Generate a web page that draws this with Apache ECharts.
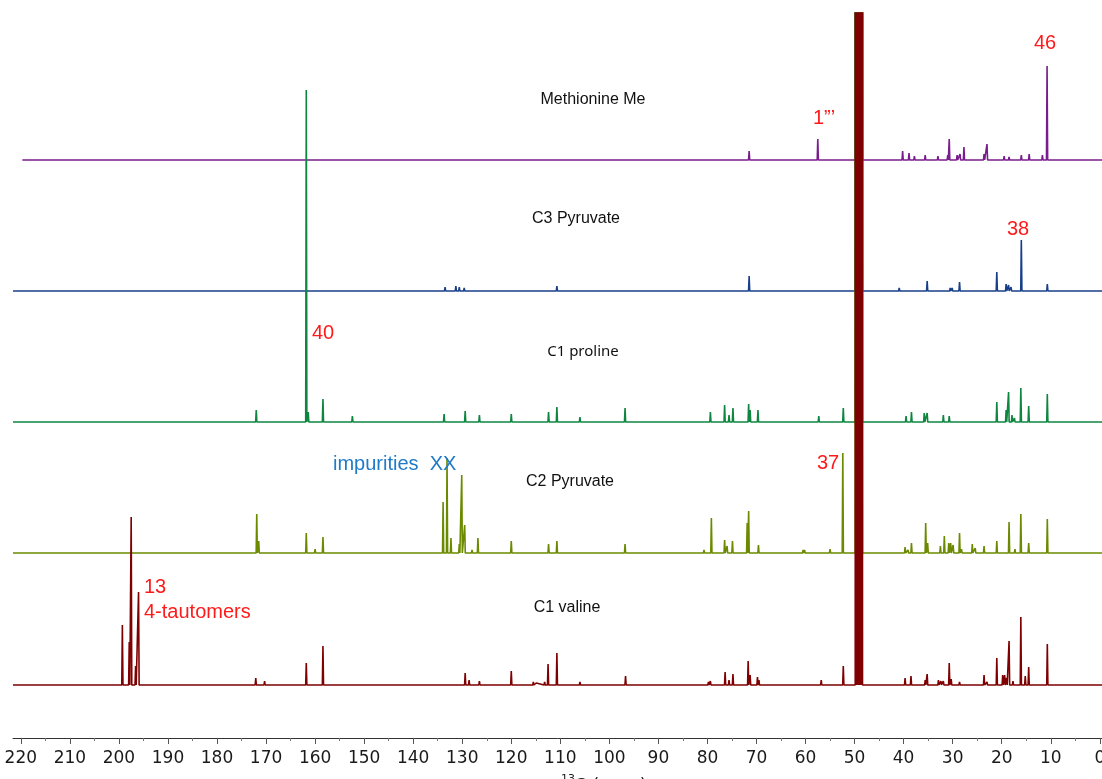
<!DOCTYPE html>
<html>
<head>
<meta charset="utf-8">
<script src="https://cdn.jsdelivr.net/npm/echarts@6/dist/echarts.min.js"></script>
<style>
html,body{margin:0;padding:0;background:#fff;overflow:hidden;}
#chart{width:1102px;height:779px;}
</style>
</head>
<body>
<div id="chart"></div>
<script>
// ---- data: peak lists [ppm, intensity] per spectrum ----
const traceNames = ['Methionine Me', 'C3 Pyruvate', 'C1 proline', 'C2 Pyruvate', 'C1 valine'];
const tickValues = [0,10,20,30,40,50,60,70,80,90,100,110,120,130,140,150,160,170,180,190,200,210,220];
const minorTickValues = [5,15,25,35,45,55,65,75,85,95,105,115,125,135,145,155,165,175,185,195,205,215];
const solventPpm = [49.75, 49.5, 49.25, 49.0, 48.75, 48.5];
const solventHeight = 3000;

const methioninePeaks = [
  [183.0,2],[110.6,2],[76.2,2],[71.5,9],[57.5,21],[52.3,1],[40.2,9],[38.9,7],[37.8,4],[35.6,5],
  [33.0,4],[31.0,5],[30.7,21],[29.1,5],[28.5,6],[27.7,13],[23.6,6],[23.0,16],[20.9,2],[19.5,4],
  [18.5,3],[16.0,5],[14.4,6],[11.7,5],[10.75,94]
];
const c3PyruvatePeaks = [
  [133.5,4],[131.3,5],[130.6,4],[129.6,3],[120.1,2],[112.4,2],[110.7,5],[76.2,2],[71.5,15],
  [40.9,3],[35.2,10],[33.0,2],[30.5,3],[30.1,3],[28.6,9],[22.4,2],[21.0,19],[19.1,7],[18.6,6],
  [18.1,4],[16.0,51],[14.4,2],[10.7,7]
];
const c1ProlinePeaks = [
  [172.0,12],[170.3,2],[161.8,332],[161.4,10],[158.4,23],[152.4,6],[133.7,8],[129.4,11],[126.5,7],
  [120.0,8],[112.4,10],[110.7,15],[106.0,5],[96.8,14],[79.4,10],[76.5,17],[75.6,7],[74.8,14],
  [71.6,18],[71.3,12],[69.7,12],[57.3,6],[52.3,14],[39.5,6],[38.4,10],[35.8,9],[35.2,9],[31.9,7],
  [30.7,6],[29.2,2],[23.6,2],[21.0,20],[19.1,12],[18.6,30],[17.9,7],[17.4,4],[16.1,34],[14.5,16],[10.7,28]
];
const c2PyruvatePeaks = [
  [177.8,2],[171.9,39],[171.5,12],[161.8,20],[160.0,4],[158.4,16],[157.3,2],[152.2,2],[138.2,2],
  [133.9,51],[133.1,95],[132.3,15],[130.6,9],[130.1,78],[129.5,28],[128.0,3],[126.8,15],[120.0,12],
  [112.4,9],[110.7,12],[106.0,2],[96.8,9],[82.9,2],[80.7,3],[79.2,35],[76.5,13],[76.0,7],[74.9,12],
  [74.0,2],[71.9,30],[71.6,42],[69.6,8],[60.5,3],[60.2,3],[57.3,2],[55.0,4],[52.4,100],[39.7,6],
  [39.1,3],[38.4,10],[35.5,30],[35.1,10],[32.5,7],[31.7,17],[30.8,10],[30.4,10],[29.9,8],[28.6,20],
  [28.2,4],[26.0,9],[25.4,5],[23.6,7],[21.0,12],[19.5,2],[18.5,31],[17.3,4],[16.1,39],[14.5,10],[10.7,34]
];
const c1ValinePeaks = [
  [199.3,60],[197.9,43],[197.5,168],[196.6,19],[196.0,93],[177.3,2],[172.1,7],[170.3,4],[161.8,22],
  [158.4,39],[152.3,2],[151.1,2],[133.8,2],[129.4,12],[128.6,5],[126.5,4],[122.4,1],[120.0,14],
  [115.5,3],[114.9,2],[113.2,3],[112.5,21],[110.7,32],[106.0,3],[96.7,9],[79.8,3],[79.4,4],[76.4,13],
  [75.6,5],[74.8,11],[71.7,24],[71.3,10],[69.8,8],[69.5,5],[57.4,2],[56.8,5],[52.3,19],[39.7,7],
  [38.5,9],[35.6,5],[35.2,11],[32.9,5],[32.4,4],[31.9,4],[30.7,22],[30.3,6],[28.6,3],[27.1,2],
  [23.6,10],[23.0,3],[21.0,27],[19.8,10],[19.4,10],[19.0,7],[18.5,44],[17.7,4],[16.1,68],[15.2,9],
  [14.5,18],[10.7,41]
];

// ---- layout / style ----
const traces = [
  {peaks: methioninePeaks, base: 578, start: 219.7, color: '#7a1d8c'},
  {peaks: c3PyruvatePeaks, base: 447, start: 221.6, color: '#183f8a'},
  {peaks: c1ProlinePeaks,  base: 316, start: 221.6, color: '#0f8640'},
  {peaks: c2PyruvatePeaks, base: 185, start: 221.6, color: '#6b8a00'},
  {peaks: c1ValinePeaks,   base: 53,  start: 221.6, color: '#7f0000'}
];
const W = 0.12;

function build(peaks, start, end, base) {
  const all = peaks.concat(solventPpm.map(p => [p, solventHeight]));
  all.sort((a, b) => b[0] - a[0]);
  const pts = [[start, base]];
  all.forEach(([p, h]) => {
    pts.push([p + W, base]);
    pts.push([p, base + h]);
    pts.push([p - W, base]);
  });
  pts.push([end, base]);
  return pts;
}

const series = traces.map((t, i) => ({
  name: traceNames[i],
  type: 'line',
  xAxisIndex: 0,
  yAxisIndex: 0,
  data: build(t.peaks, t.start, -0.45, t.base),
  showSymbol: false,
  symbol: 'none',
  clip: true,
  silent: true,
  animation: false,
  lineStyle: {color: t.color, width: 1.6},
  z: 2 + i
}));

const black = "16px 'Liberation Sans', Arial, sans-serif";
const red = "20px 'Liberation Sans', Arial, sans-serif";
function txt(text, x, y, font, fill, align) {
  return {type: 'text', x: x, y: y, z: 100,
    style: {text: text, font: font, fill: fill, align: align || 'center', verticalAlign: 'middle',
            textAlign: align || 'center', textVerticalAlign: 'middle'}};
}

const chart = echarts.init(document.getElementById('chart'), null, {renderer: 'canvas'});
chart.setOption({
  animation: false,
  backgroundColor: '#ffffff',
  grid: {left: 13, right: 0, top: 13, bottom: 41, containLabel: false, outerBoundsMode: 'none'},
  xAxis: [{
    type: 'value', inverse: true, min: -0.45, max: 221.6,
    splitLine: {show: false},
    axisLine: {show: true, lineStyle: {color: '#333', width: 1}},
    axisTick: {show: true, inside: false, length: 6, lineStyle: {color: '#555'}, customValues: tickValues},
    axisLabel: {show: true, customValues: tickValues, margin: 12, color: '#1a1a1a',
                fontFamily: "'DejaVu Sans', sans-serif", fontSize: 17, hideOverlap: false},
    minorTick: {show: false}
  }, {
    type: 'value', inverse: true, min: -0.45, max: 221.6, position: 'bottom',
    splitLine: {show: false},
    axisLine: {show: false},
    axisTick: {show: true, length: 3, lineStyle: {color: '#777'}, customValues: minorTickValues},
    axisLabel: {show: false}
  }],
  yAxis: {type: 'value', min: 0, max: 725, show: false, splitLine: {show: false}},
  series: series,
  graphic: [
    txt('Methionine Me', 593, 100, black, '#111'),
    txt('C3 Pyruvate', 576, 219, black, '#111'),
    txt('C1 proline', 583, 352, "15px 'Noto Sans', sans-serif", '#111'),
    txt('C2 Pyruvate', 570, 482, black, '#111'),
    txt('C1 valine', 567, 608, black, '#111'),
    txt('46', 1045, 43, red, '#ff1a1a'),
    txt('1”’', 824, 118, red, '#ff1a1a'),
    txt('38', 1018, 229, red, '#ff1a1a'),
    txt('40', 323, 333, red, '#ff1a1a'),
    txt('37', 828, 463, red, '#ff1a1a'),
    txt('13', 144, 587, red, '#ff1a1a', 'left'),
    txt('4-tautomers', 144, 612, red, '#ff1a1a', 'left'),
    txt('impurities  XX', 333, 464, "20px 'Liberation Sans', Arial, sans-serif", '#1f7ac8', 'left'),
    txt('13', 561, 779, "11px 'DejaVu Sans', sans-serif", '#1a1a1a', 'left'),
    txt('C (ppm)', 574, 786, "18px 'DejaVu Sans', sans-serif", '#1a1a1a', 'left')
  ]
});
</script>
</body>
</html>
